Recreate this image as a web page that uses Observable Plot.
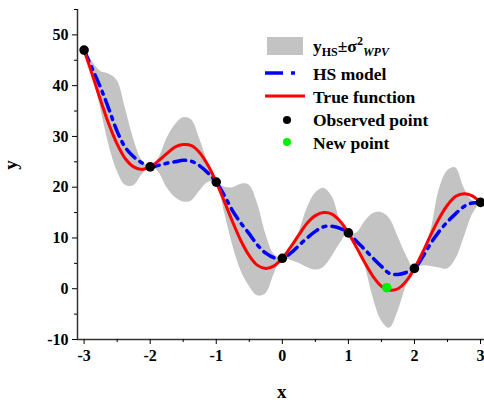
<!DOCTYPE html>
<html><head><meta charset="utf-8">
<script src="https://cdn.jsdelivr.net/npm/d3@7"></script>
<script src="https://cdn.jsdelivr.net/npm/@observablehq/plot@0.6"></script>
<style>body{margin:0;background:#fff}#chart{position:relative;width:484px;height:404px}</style>
</head><body><div id="chart"></div>
<script>
const xs = [-3,-2.875,-2.75,-2.625,-2.5,-2.375,-2.25,-2.125,-2,-1.875,-1.75,-1.625,-1.5,-1.375,-1.25,-1.125,-1,-0.875,-0.75,-0.625,-0.5,-0.375,-0.25,-0.125,0,0.125,0.25,0.375,0.5,0.625,0.75,0.875,1,1.125,1.25,1.375,1.5,1.625,1.75,1.875,2,2.125,2.25,2.375,2.5,2.625,2.75,2.875,3];
const trueY = [47,42.1,37.1,32.4,28.5,25.6,24.0,23.5,24,25.2,26.6,27.9,28.4,28.2,26.8,24.3,21,17.1,13.1,9.4,6.5,4.6,4.0,4.5,6,8.2,10.6,12.9,14.4,15.0,14.7,13.3,11,8.1,5.1,2.4,0.5,-0.3,0.0,1.5,4,7.2,10.7,13.9,16.5,18.2,18.7,18.3,17];
const hsY = [47,43.3,39.6,35.4,31.0,27.8,26.0,24.8,24,24.3,24.7,25.0,25.3,25.1,24.2,22.8,21,18.3,15.3,12.9,10.8,8.6,7.0,6.1,6,7.0,8.5,10.0,11.3,12.2,12.3,11.9,11,9.3,7.7,6.0,4.4,3.0,2.8,3.2,4,6.3,9.0,11.3,13.2,14.8,16.2,16.9,17];
const upperY = [47,44.7,42.8,42.3,41.0,35.5,29.5,25.3,24,25.6,29.5,32.2,33.7,33.3,29.5,24.8,21,20.0,19.9,20.6,20.4,16.8,10.8,6.8,6,7.5,11.0,15.8,18.8,19.8,18.2,13.6,11,11.0,13.2,14.8,15.0,13.8,10.3,6.6,4,6.8,11.5,19.5,23.2,23.8,19.9,17.4,17];
const lowerY = [47,42.0,35.5,28.3,23.2,20.4,20.3,22.4,24,23.0,20.0,18.0,17.1,17.3,19.2,20.9,21,15.0,8.5,3.5,0.5,-1.4,-1.0,2.8,6,5.6,5.0,4.2,3.7,4.2,6.3,8.9,11,9.0,4.6,-1.8,-6.3,-7.8,-4.5,0.5,4,4.5,4.4,4.1,3.9,5.8,10.0,14.5,17];
const obsX = [-3,-2,-1,0,1,2,3];
const obsY = [47,24,21,6,11,4,17];
const newX = [1.58];
const newY = [0.2];
const xTicks = [-3,-2,-1,0,1,2,3];
const xMinor = [-2.5,-1.5,-0.5,0.5,1.5,2.5];
const yTicks = [-10,0,10,20,30,40,50];
const yMinor = [-5,5,15,25,35,45,55];
const xDomain = [-3.1, 3.06];
const yDomain = [-10, 55];
const legendLabels = ["HS model","True function","Observed point","New point"];

const curve = xs.map((x,i)=>({x, t:trueY[i], h:hsY[i], lo:lowerY[i], hi:upperY[i]}));
const obs = obsX.map((x,i)=>({x, y:obsY[i]}));
const nw = newX.map((x,i)=>({x, y:newY[i]}));
const font = "'Liberation Serif','Times New Roman',serif";

const chart = Plot.plot({
  width:484, height:404, marginLeft:77, marginRight:0, marginTop:9, marginBottom:65,
  x:{domain:xDomain}, y:{domain:yDomain},
  style:{fontFamily:font, fontSize:"16px", fontWeight:"bold", color:"#000", background:"#fff"},
  marks:[
    Plot.areaY(curve,{x:"x", y1:"lo", y2:"hi", fill:"#c3c3c3", curve:"catmull-rom"}),
    Plot.line(curve,{x:"x", y:"h", stroke:"#0000ff", strokeWidth:3.5, strokeDasharray:"12,6,3,6", curve:"catmull-rom"}),
    Plot.line(curve,{x:"x", y:"t", stroke:"#ff0000", strokeWidth:3, curve:"catmull-rom"}),
    Plot.dot(obs,{x:"x", y:"y", r:4.8, fill:"#000"}),
    Plot.dot(nw,{x:"x", y:"y", r:4.8, fill:"#00ee00"}),
    Plot.ruleX([xDomain[0]],{stroke:"#333", strokeWidth:1.5}),
    Plot.ruleY([yDomain[0]],{stroke:"#333", strokeWidth:1.5}),
    Plot.axisX({ticks:xTicks, tickSize:5, tickPadding:5, tickFormat:d=>String(d), label:null}),
    Plot.axisX({ticks:xMinor, tickSize:3, tickFormat:()=>"", label:null}),
    Plot.axisY({ticks:yTicks, tickSize:5, tickPadding:4, tickFormat:d=>String(d), label:null}),
    Plot.axisY({ticks:yMinor, tickSize:3, tickFormat:()=>"", label:null})
  ]
});
document.getElementById("chart").appendChild(chart);

const svg = d3.select(chart);
const sx = chart.scale("x");
svg.append("text").attr("x", sx.apply(0)).attr("y", 398)
  .attr("text-anchor","middle").attr("font-size",19).attr("font-weight","bold").attr("font-family",font).text("x");
svg.append("text").attr("transform","translate(17,165) rotate(-90)")
  .attr("text-anchor","middle").attr("font-size",19).attr("font-weight","bold").attr("font-family",font).text("y");

// legend
const lg = svg.append("g").attr("font-family",font).attr("font-weight","bold").attr("font-size",17.5).attr("fill","#000").attr("text-anchor","start");
const lx = 313, rowY = [52, 80, 103, 126, 149];
lg.append("rect").attr("x",267).attr("y",37).attr("width",36).attr("height",18).attr("fill","#c3c3c3");
const t0 = lg.append("text").attr("x",lx).attr("y",rowY[0]).attr("text-anchor","start");
t0.append("tspan").text("y");
t0.append("tspan").attr("font-size",12).attr("dy",4).text("HS");
t0.append("tspan").attr("dy",-4).text("±σ");
t0.append("tspan").attr("font-size",12).attr("dy",-7).text("2");
t0.append("tspan").attr("font-size",12).attr("font-style","italic").attr("dy",11).text("WPV");
lg.append("line").attr("x1",265).attr("x2",283).attr("y1",73).attr("y2",73).attr("stroke","#0000ff").attr("stroke-width",3.5);
lg.append("line").attr("x1",291).attr("x2",295).attr("y1",73).attr("y2",73).attr("stroke","#0000ff").attr("stroke-width",3.5);
lg.append("line").attr("x1",265).attr("x2",305).attr("y1",96).attr("y2",96).attr("stroke","#ff0000").attr("stroke-width",3);
lg.append("circle").attr("cx",287).attr("cy",120).attr("r",4).attr("fill","#000");
lg.append("circle").attr("cx",287).attr("cy",142).attr("r",4).attr("fill","#00ee00");
legendLabels.forEach((s,i)=>lg.append("text").attr("x",lx).attr("y",rowY[i+1]).attr("text-anchor","start").text(s));
</script>
</body></html>
